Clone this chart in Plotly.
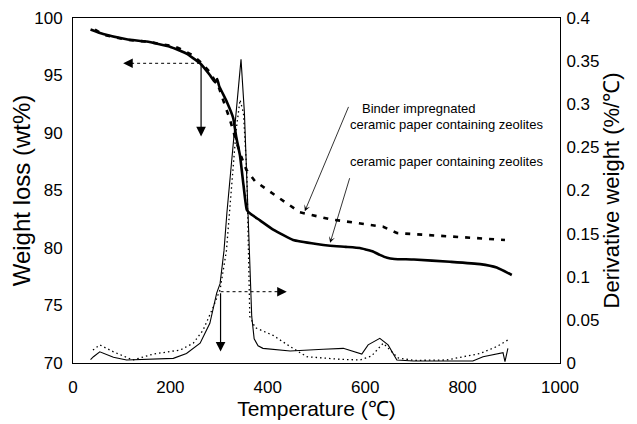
import plotly.graph_objects as go

# Weight loss (left axis) - ceramic paper containing zeolites (solid)
t_w_cp = [36, 62, 110, 151, 199, 233, 261, 281, 292, 296, 300, 316, 329, 335, 343, 350, 357, 365, 384, 411, 452, 500, 528, 560, 589, 603, 616, 630, 645, 660, 700, 774, 836, 870, 901]
w_cp = [99.0, 98.6, 98.15, 97.95, 97.5, 96.9, 96.06, 95.04, 94.4, 94.7, 94.1, 92.7, 91.3, 89.7, 88.0, 85.5, 83.3, 82.95, 82.4, 81.6, 80.7, 80.35, 80.2, 80.1, 80.0, 79.85, 79.7, 79.4, 79.15, 79.05, 79.0, 78.8, 78.6, 78.3, 77.65]

# Weight loss - binder impregnated (dashed)
t_w_b = [45, 62, 110, 151, 199, 216, 244, 261, 281, 300, 308, 322, 335, 345, 356, 374, 418, 466, 528, 562, 603, 637, 665, 733, 774, 887]
w_b = [99.0, 98.55, 98.1, 97.95, 97.6, 97.4, 96.8, 96.2, 95.3, 93.9, 92.9, 91.2, 89.3, 88.0, 86.8, 85.8, 84.5, 83.1, 82.5, 82.3, 82.1, 81.85, 81.3, 81.1, 81.0, 80.7]

# Derivative weight (right axis) - ceramic paper (thin solid)
t_d_cp = [36, 42, 55, 83, 110, 151, 206, 233, 261, 281, 295, 302, 310, 316, 330, 345, 352, 357, 360, 364, 367, 372, 380, 390, 446, 514, 555, 593, 606, 630, 647, 665, 699, 821, 842, 883, 887, 893]
d_cp = [0.004, 0.0073, 0.013, 0.0066, 0.0035, 0.0043, 0.0054, 0.011, 0.023, 0.046, 0.081, 0.092, 0.13, 0.174, 0.26, 0.352, 0.29, 0.21, 0.174, 0.10, 0.054, 0.028, 0.02, 0.017, 0.014, 0.016, 0.017, 0.0104, 0.021, 0.0286, 0.021, 0.0035, 0.0023, 0.0023, 0.0073, 0.012, 0.0015, 0.017]

# Derivative weight - binder impregnated (dotted)
t_d_b = [41, 55, 83, 123, 165, 220, 247, 267, 288, 302, 315, 325, 335, 343, 350, 357, 360, 363, 374, 411, 446, 480, 548, 589, 613, 637, 658, 668, 700, 767, 836, 870, 894]
d_b = [0.015, 0.021, 0.013, 0.0035, 0.0104, 0.015, 0.023, 0.038, 0.065, 0.085, 0.13, 0.2, 0.27, 0.305, 0.29, 0.22, 0.13, 0.054, 0.041, 0.032, 0.019, 0.0073, 0.0043, 0.0035, 0.0081, 0.023, 0.011, 0.0058, 0.003, 0.0035, 0.011, 0.019, 0.027]

x_ticks = [0, 200, 400, 600, 800, 1000]
y_ticks = [70, 75, 80, 85, 90, 95, 100]
y2_ticks = [0, 0.05, 0.1, 0.15, 0.2, 0.25, 0.3, 0.35, 0.4]
y2_labels = ["0", "0.05", "0.1", "0.15", "0.2", "0.25", "0.3", "0.35", "0.4"]

label_1a = "Binder impregnated"
label_1b = "ceramic paper containing zeolites"
label_2 = "ceramic paper containing zeolites"

FONT = "Liberation Sans, Arial, sans-serif"
NARROW = "Liberation Sans Narrow, Arial Narrow, Liberation Sans, sans-serif"

fig = go.Figure()
fig.add_trace(go.Scatter(x=t_d_cp, y=d_cp, mode="lines", yaxis="y2",
                         line=dict(color="black", width=1.1), showlegend=False))
fig.add_trace(go.Scatter(x=t_d_b, y=d_b, mode="lines", yaxis="y2",
                         line=dict(color="black", width=1.3, dash="1.5px,3px"), showlegend=False))
fig.add_trace(go.Scatter(x=t_w_cp, y=w_cp, mode="lines",
                         line=dict(color="black", width=2.6, shape="spline", smoothing=0.4), showlegend=False))
fig.add_trace(go.Scatter(x=t_w_b, y=w_b, mode="lines",
                         line=dict(color="black", width=2.6, dash="5px,7px"), showlegend=False))

# arrows: left group (points to left axis)
fig.add_shape(type="line", x0=261, y0=96.06, x1=115, y1=96.06, xref="x", yref="y",
              line=dict(color="black", width=1, dash="dot"))
fig.add_annotation(x=103, y=96.06, ax=125, ay=96.06, xref="x", yref="y", axref="x", ayref="y",
                   text="", showarrow=True, arrowhead=2, arrowsize=1.6, arrowwidth=1.2, arrowcolor="black")
fig.add_annotation(x=263, y=89.7, ax=263, ay=96.06, xref="x", yref="y", axref="x", ayref="y",
                   text="", showarrow=True, arrowhead=2, arrowsize=1.6, arrowwidth=1.2, arrowcolor="black")
# arrows: right group
fig.add_shape(type="line", x0=303, y0=76.2, x1=420, y1=76.2, xref="x", yref="y",
              line=dict(color="black", width=1, dash="dot"))
fig.add_annotation(x=439, y=76.2, ax=417, ay=76.2, xref="x", yref="y", axref="x", ayref="y",
                   text="", showarrow=True, arrowhead=2, arrowsize=1.6, arrowwidth=1.2, arrowcolor="black")
fig.add_annotation(x=303, y=71.0, ax=303, ay=76.2, xref="x", yref="y", axref="x", ayref="y",
                   text="", showarrow=True, arrowhead=2, arrowsize=1.6, arrowwidth=1.2, arrowcolor="black")

# label arrows
fig.add_annotation(x=476, y=83.2, ax=567, ay=92.4, xref="x", yref="y", axref="x", ayref="y",
                   text="", showarrow=True, arrowhead=3, arrowsize=1.3, arrowwidth=0.8, arrowcolor="black")
fig.add_annotation(x=528, y=80.45, ax=569, ay=86.2, xref="x", yref="y", axref="x", ayref="y",
                   text="", showarrow=True, arrowhead=3, arrowsize=1.3, arrowwidth=0.8, arrowcolor="black")

# labels
fig.add_annotation(x=589, y=92.17, xref="x", yref="y", text=label_1a, showarrow=False,
                   xanchor="left", yanchor="middle", font=dict(family=NARROW, size=13, color="black"))
fig.add_annotation(x=565, y=90.7, xref="x", yref="y", text=label_1b, showarrow=False,
                   xanchor="left", yanchor="middle", font=dict(family=NARROW, size=13, color="black"))
fig.add_annotation(x=565, y=87.48, xref="x", yref="y", text=label_2, showarrow=False,
                   xanchor="left", yanchor="middle", font=dict(family=NARROW, size=13, color="black"))

axis_common = dict(showgrid=False, zeroline=False, showline=True, linecolor="black", linewidth=1,
                   ticks="", automargin=False, tickfont=dict(family=FONT, size=17, color="black"))

fig.update_layout(
    width=629, height=416,
    margin=dict(l=65, r=77, t=10, b=61),
    paper_bgcolor="white", plot_bgcolor="white",
    font=dict(family=FONT, color="black"),
    xaxis=dict(range=[0, 1000], tickvals=x_ticks, mirror=True,
               title=dict(text="Temperature (℃)", font=dict(family=FONT, size=21), standoff=3),
               ticklabelstandoff=9, **axis_common),
    yaxis=dict(range=[70, 100], tickvals=y_ticks, mirror=False,
               title=dict(text="Weight loss (wt%)", font=dict(family=FONT, size=24), standoff=2),
               ticklabelstandoff=6, **axis_common),
    yaxis2=dict(range=[0, 0.4], tickvals=y2_ticks, ticktext=y2_labels, overlaying="y", side="right",
                title=dict(text="Derivative weight (%/℃)", font=dict(family=FONT, size=22), standoff=4),
                ticklabelstandoff=2, **axis_common),
)

fig.write_html("out.html")
